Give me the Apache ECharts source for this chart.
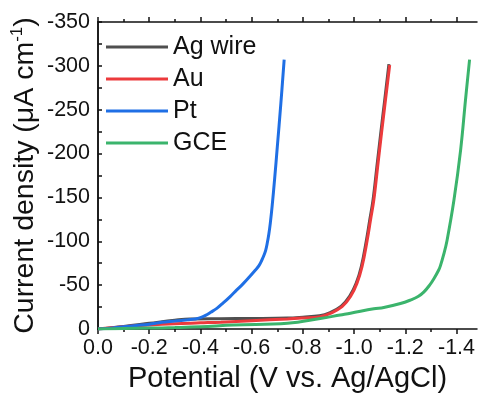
<!DOCTYPE html>
<html lang="en">
<head>
<meta charset="UTF-8">
<title>LSV curves</title>
<style>
  html, body { margin: 0; padding: 0; background: #fff; }
  #main { width: 482px; height: 396px; }
</style>
</head>
<body>
<div id="main"></div>
<script src="https://cdn.jsdelivr.net/npm/echarts@6/dist/echarts.min.js"></script>
<script>
// potential (V vs. Ag/AgCl) and current density (uA cm-1)
var agWireV = [0, -0.1, -0.2, -0.3, -0.36, -0.48, -0.6, -0.74, -0.8, -0.865, -0.904, -0.95, -0.983, -1.008, -1.028, -1.048, -1.061, -1.074, -1.089, -1.104, -1.12, -1.136];
var agWireJ = [0, -3, -6.5, -10, -11.5, -11.8, -12, -12.5, -13.5, -15, -18.3, -26, -37.5, -52, -71, -101, -124, -147, -185, -223, -262, -302];

var auV = [0, -0.1, -0.2, -0.3, -0.4, -0.48, -0.6, -0.74, -0.8, -0.868, -0.907, -0.953, -0.986, -1.011, -1.031, -1.051, -1.064, -1.077, -1.092, -1.107, -1.123, -1.139];
var auJ = [0, -2.5, -4.5, -6, -7, -7.8, -9.5, -11.4, -12.5, -14, -17.8, -25.4, -37, -52, -71, -101, -124, -147, -185, -223, -262, -301];

var ptV = [0, -0.05, -0.1, -0.15, -0.2, -0.25, -0.3, -0.35, -0.38, -0.4, -0.42, -0.44, -0.464, -0.49, -0.516, -0.54, -0.568, -0.59, -0.614, -0.628, -0.64, -0.648, -0.655, -0.661, -0.667, -0.673, -0.68, -0.69, -0.7, -0.714, -0.727];
var ptJ = [0, -1, -2.5, -4, -5.5, -7.6, -9, -10.5, -11.5, -13, -15.5, -19, -23.5, -30, -37, -44, -52, -59, -67, -72, -78.7, -84, -90, -98, -108, -121, -140, -172, -207, -257, -307];

var gceV = [0, -0.1, -0.2, -0.3, -0.4, -0.53, -0.74, -0.868, -0.946, -0.986, -1.077, -1.116, -1.181, -1.22, -1.25, -1.272, -1.295, -1.311, -1.33, -1.337, -1.35, -1.363, -1.39, -1.416, -1.435, -1.451];
var gceJ = [0, -0.5, -1, -1.6, -2.5, -4.5, -6.5, -12, -16, -18, -23, -24.5, -29, -33, -37, -42, -50, -57, -67, -72, -85, -101, -147, -204, -261, -307];

var xMajor = [0, -0.2, -0.4, -0.6, -0.8, -1.0, -1.2, -1.4];
var xMinor = [-0.1, -0.3, -0.5, -0.7, -0.9, -1.1, -1.3];

var names = ['Ag wire', 'Au', 'Pt', 'GCE'];
var colors = ['#4f4f4f', '#ec3a3c', '#1f6fe5', '#3bb46c'];

function pairs(xs, ys) {
    var out = [];
    for (var i = 0; i < xs.length; i++) out.push([xs[i], ys[i]]);
    return out;
}

var font = 'Liberation Sans, Arial, sans-serif';
var ink = '#111';
var axisLine = {show: true, lineStyle: {color: ink, width: 1.5}};

function xAxisBase(pos, ticks, len, withLabel, withLine) {
    return {
        type: 'value', position: pos, min: -1.48, max: 0, inverse: true,
        axisLine: withLine ? axisLine : {show: false},
        axisTick: {show: true, customValues: ticks, length: len, lineStyle: {color: ink, width: 1.5}},
        axisLabel: withLabel ? {
            customValues: xMajor, fontSize: 21.5, color: ink, fontFamily: font, margin: 8,
            formatter: function (v) { return v.toFixed(1); }
        } : {show: false},
        splitLine: {show: false}
    };
}

var xAxes = [
    xAxisBase('bottom', xMajor, 5, true, true),
    xAxisBase('bottom', xMinor, 3, false, false),
    xAxisBase('top', xMajor, 5, false, true),
    xAxisBase('top', xMinor, 3, false, false)
];
xAxes[0].name = 'Potential (V vs. Ag/AgCl)';
xAxes[0].nameLocation = 'middle';
xAxes[0].nameGap = 35;
xAxes[0].nameTextStyle = {fontSize: 29, color: ink, fontFamily: font};

var myChart = echarts.init(document.getElementById('main'));
var option = {
    animation: false,
    color: colors,
    grid: {left: 98, right: 5, top: 22, bottom: 67, containLabel: false, outerBoundsMode: 'none'},
    legend: {
        data: names,
        orient: 'vertical',
        left: 101, top: 29,
        icon: 'rect',
        itemWidth: 62, itemHeight: 3,
        itemGap: 6,
        textStyle: {fontSize: 25, color: ink, fontFamily: font, lineHeight: 26}
    },
    xAxis: xAxes,
    yAxis: [
        {
            type: 'value', position: 'left', min: -350, max: 0, interval: 50, inverse: true,
            name: 'Current density (μA cm{sup|-1})',
            nameLocation: 'middle', nameGap: 56, nameMoveOverlap: false,
            nameTextStyle: {
                fontSize: 28.5, color: ink, fontFamily: font, lineHeight: 33,
                rich: {sup: {fontSize: 17, color: ink, fontFamily: font, verticalAlign: 'top', lineHeight: 33}}
            },
            axisLine: axisLine,
            axisTick: {show: true, inside: true, length: 4, lineStyle: {color: ink, width: 1.5}},
            minorTick: {show: true, splitNumber: 2, length: 4, lineStyle: {color: ink, width: 1.5}},
            axisLabel: {fontSize: 21.5, color: ink, fontFamily: font, margin: 8},
            splitLine: {show: false}
        },
        {
            type: 'value', position: 'right', min: -350, max: 0, interval: 50, inverse: true,
            axisLine: axisLine,
            axisTick: {show: true, length: 4, lineStyle: {color: ink, width: 1.5}},
            minorTick: {show: true, splitNumber: 2, length: 3, lineStyle: {color: ink, width: 1.5}},
            axisLabel: {show: false},
            splitLine: {show: false}
        }
    ],
    series: [
        {name: 'Ag wire', data: pairs(agWireV, agWireJ)},
        {name: 'Au', data: pairs(auV, auJ)},
        {name: 'Pt', data: pairs(ptV, ptJ)},
        {name: 'GCE', data: pairs(gceV, gceJ)}
    ].map(function (s) {
        s.type = 'line';
        s.showSymbol = false;
        s.symbol = 'none';
        s.smooth = 0.4;
        s.lineStyle = {width: 3};
        return s;
    })
};
myChart.setOption(option);
</script>
</body>
</html>
